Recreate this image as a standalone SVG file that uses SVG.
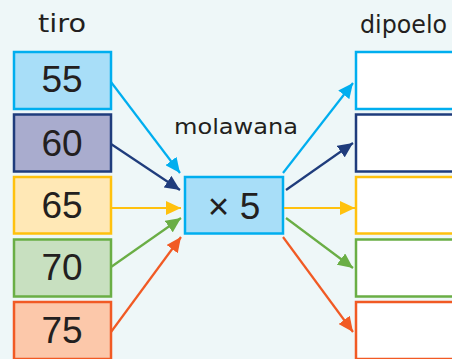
<svg xmlns="http://www.w3.org/2000/svg" width="452" height="359" viewBox="0 0 452 359">
<defs>
<style>
.lbl{font-family:"DejaVu Sans","Liberation Sans",sans-serif;font-size:21px;fill:#231f20}
.big{font-size:24px}
.num{font-family:"Liberation Sans",Arial,sans-serif;font-size:37px;fill:#231f20;text-anchor:middle}
.box{stroke-width:2.5}
.ln{fill:none;stroke-width:2.2}
</style>
<marker id="mC" markerUnits="userSpaceOnUse" markerWidth="16" markerHeight="14" refX="15" refY="7" orient="auto"><path d="M0,0 L15,7 L0,14 Z" fill="#00aeef"/></marker>
<marker id="mN" markerUnits="userSpaceOnUse" markerWidth="16" markerHeight="14" refX="15" refY="7" orient="auto"><path d="M0,0 L15,7 L0,14 Z" fill="#1f3c7c"/></marker>
<marker id="mY" markerUnits="userSpaceOnUse" markerWidth="16" markerHeight="14" refX="15" refY="7" orient="auto"><path d="M0,0 L15,7 L0,14 Z" fill="#ffc10e"/></marker>
<marker id="mG" markerUnits="userSpaceOnUse" markerWidth="16" markerHeight="14" refX="15" refY="7" orient="auto"><path d="M0,0 L15,7 L0,14 Z" fill="#6aae45"/></marker>
<marker id="mO" markerUnits="userSpaceOnUse" markerWidth="16" markerHeight="14" refX="15" refY="7" orient="auto"><path d="M0,0 L15,7 L0,14 Z" fill="#f15a24"/></marker>
</defs>
<rect x="0" y="0" width="452" height="359" fill="#eef7f8"/>
<text class="lbl big" x="38" y="32" textLength="48" lengthAdjust="spacingAndGlyphs">tiro</text>
<text class="lbl" x="174" y="134" textLength="124" lengthAdjust="spacingAndGlyphs">molawana</text>
<text class="lbl big" x="360" y="33" textLength="87" lengthAdjust="spacingAndGlyphs">dipoelo</text>
<g id="in55"><rect class="box" x="14" y="52" width="97" height="57" fill="#a8def8" stroke="#00aeef"/><text class="num" x="62" y="92">55</text></g>
<g id="in60"><rect class="box" x="14" y="114.5" width="97" height="57" fill="#a9acce" stroke="#1f3c7c"/><text class="num" x="62" y="156">60</text></g>
<g id="in65"><rect class="box" x="14" y="177" width="97" height="56.5" fill="#ffe8b6" stroke="#ffc10e"/><text class="num" x="62" y="218">65</text></g>
<g id="in70"><rect class="box" x="14" y="239.5" width="97" height="57" fill="#c8e0c0" stroke="#6aae45"/><text class="num" x="62" y="280">70</text></g>
<g id="in75"><rect class="box" x="14" y="302" width="97" height="57" fill="#fcc8aa" stroke="#f15a24"/><text class="num" x="62" y="343">75</text></g>
<g id="rule"><rect class="box" x="185" y="177" width="98" height="56.5" fill="#a8def8" stroke="#00aeef"/><text class="num" x="234" y="219">× 5</text></g>
<g id="out1"><rect class="box" x="356" y="52" width="98" height="57" fill="#ffffff" stroke="#00aeef"/></g>
<g id="out2"><rect class="box" x="356" y="114.5" width="98" height="57" fill="#ffffff" stroke="#1f3c7c"/></g>
<g id="out3"><rect class="box" x="356" y="177" width="98" height="56.5" fill="#ffffff" stroke="#ffc10e"/></g>
<g id="out4"><rect class="box" x="356" y="239.5" width="98" height="57" fill="#ffffff" stroke="#6aae45"/></g>
<g id="out5"><rect class="box" x="356" y="302" width="98" height="57" fill="#ffffff" stroke="#f15a24"/></g>
<g id="connectors">
<line class="ln" x1="111" y1="82" x2="180" y2="173" stroke="#00aeef" marker-end="url(#mC)"/>
<line class="ln" x1="111" y1="144" x2="180" y2="190" stroke="#1f3c7c" marker-end="url(#mN)"/>
<line class="ln" x1="111" y1="208" x2="181" y2="208" stroke="#ffc10e" marker-end="url(#mY)"/>
<line class="ln" x1="111" y1="267" x2="181" y2="218" stroke="#6aae45" marker-end="url(#mG)"/>
<line class="ln" x1="111" y1="332" x2="181" y2="237" stroke="#f15a24" marker-end="url(#mO)"/>
<line class="ln" x1="283" y1="173" x2="353" y2="83" stroke="#00aeef" marker-end="url(#mC)"/>
<line class="ln" x1="286" y1="190" x2="353" y2="143" stroke="#1f3c7c" marker-end="url(#mN)"/>
<line class="ln" x1="284" y1="208" x2="355" y2="208" stroke="#ffc10e" marker-end="url(#mY)"/>
<line class="ln" x1="286" y1="218" x2="353" y2="268" stroke="#6aae45" marker-end="url(#mG)"/>
<line class="ln" x1="283" y1="237" x2="353" y2="332" stroke="#f15a24" marker-end="url(#mO)"/>
</g>
</svg>
